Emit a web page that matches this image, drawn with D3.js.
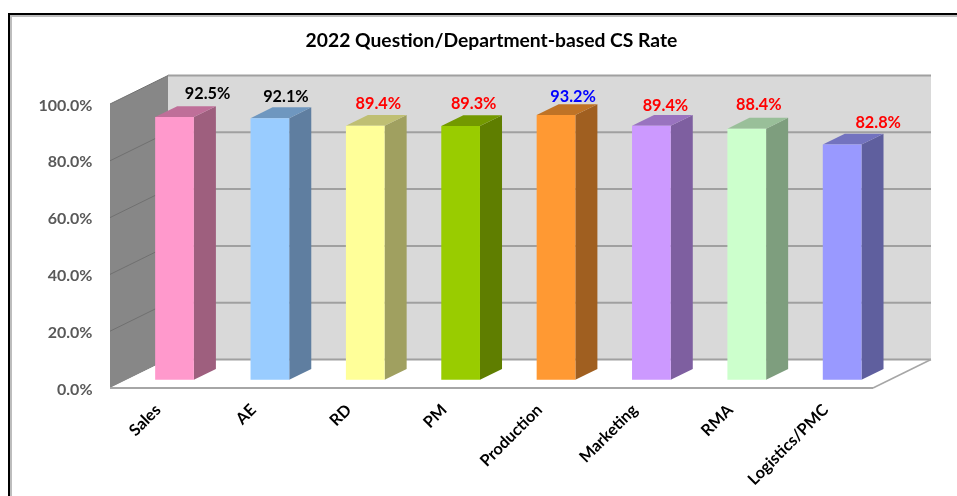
<!DOCTYPE html>
<html><head><meta charset="utf-8">
<script src="https://cdn.jsdelivr.net/npm/d3@7"></script>
<style>html,body{margin:0;padding:0;background:#fff;overflow:hidden}svg{display:block;filter:blur(0.35px)}</style>
</head><body><svg id="c" width="957" height="496"></svg>
<script>
const categories = ["Sales","AE","RD","PM","Production","Marketing","RMA","Logistics/PMC"];
const rates = [92.5,92.1,89.4,89.3,93.2,89.4,88.4,82.8];
const faceColors = ["#ff99cc","#99ccff","#ffff99","#99cc00","#ff9933","#cc99ff","#ccffcc","#9999ff"];
const topColors = ["#bf6f99","#6f97bf","#bfbf73","#739900","#bf7326","#9973bf","#99bf99","#7373bf"];
const sideColors = ["#9e5f7e","#5f7ea0","#a0a060","#5f7e00","#a05f20","#7e5fa0","#7e9e7e","#5f5f9e"];
const labelColors = ["#000","#000","#f00","#f00","#00f","#f00","#f00","#f00"];
const yTicks = [0,20,40,60,80,100];
const titleText = "2022 Question/Department-based CS Rate";

const svg = d3.select("#c");
const font = "Lato, Carlito, sans-serif";
const x = d3.scaleBand().domain(categories).range([110,873]);
const y = d3.scaleLinear().domain([0,100]).range([388,104]);
const depthX = d3.scaleLinear().domain([0,1]).range([0,58]);
const depthY = d3.scaleLinear().domain([0,1]).range([0,-28.5]);
const P = (px,val,z)=>[px+depthX(z), y(val)+depthY(z)];
const poly = pts => pts.map(p=>p.join(",")).join(" ");
const [x0,x1] = x.range();

// frame of the pasted picture: black line with a soft grey edge inside
svg.append("path").attr("d","M11,496V16H957").attr("fill","none").attr("stroke","#bdbdbd").attr("stroke-width",2);
svg.append("path").attr("d","M9,496V14H957").attr("fill","none").attr("stroke","#000").attr("stroke-width",2);

svg.append("text").attr("x",491.5).attr("y",47).attr("text-anchor","middle")
  .attr("font-family",font).attr("font-weight",700).attr("font-size",19.3).attr("fill","#000").text(titleText);

// back wall, side wall, floor
svg.append("polygon").attr("points",poly([P(x0,0,1),P(x1,0,1),P(x1,100,1),P(x0,100,1)])).attr("fill","#d9d9d9");
svg.append("polygon").attr("points",poly([P(x0,0,0),P(x0,0,1),P(x0,100,1),P(x0,100,0)])).attr("fill","#878787");
svg.append("polygon").attr("points",poly([P(x0,0,0),P(x1,0,0),P(x1,0,1),P(x0,0,1)])).attr("fill","#fff");

const grid = svg.append("g").attr("fill","none").attr("stroke","#a0a0a0").attr("stroke-width",2);
yTicks.forEach(t=>{
  grid.append("line").attr("x1",P(x0,t,1)[0]).attr("x2",P(x1,t,1)[0]).attr("y1",P(x0,t,1)[1]).attr("y2",P(x0,t,1)[1]);
  if (t>0) svg.append("line").attr("x1",P(x0,t,0)[0]).attr("y1",P(x0,t,0)[1]).attr("x2",P(x0,t,1)[0]).attr("y2",P(x0,t,1)[1])
    .attr("stroke","#707070").attr("stroke-width",1);
});
svg.append("line").attr("x1",x0).attr("x2",x1).attr("y1",y(0)).attr("y2",y(0)).attr("stroke","#a6a6a6").attr("stroke-width",2);
svg.append("line").attr("x1",x1).attr("y1",y(0)).attr("x2",P(x1,0,1)[0]).attr("y2",P(x1,0,1)[1]).attr("stroke","#a6a6a6").attr("stroke-width",1.5);

// y tick labels
svg.append("g").selectAll("text").data(yTicks).join("text")
  .attr("x",92.5).attr("y",d=>y(d)+6.5).attr("text-anchor","end")
  .attr("font-family",font).attr("font-weight",700).attr("font-size",16).attr("fill","#595959")
  .text(d=>d.toFixed(1)+"%");

// bars
const zFront = 0.29, zBack = 0.67, barW = 38.7;
// the data labels were dragged by hand in the original, so each has its own nudge
const labelNudge = [[10,0],[-7,2],[-10,1],[-10,1],[-6,5],[-9,3],[-11,-1],[13,1]];
const bars = svg.append("g").selectAll("g").data(categories).join("g");
bars.each(function(c,i){
  const g = d3.select(this), v = rates[i];
  const l = x(c)+x.bandwidth()/2-barW/2, r = l+barW;
  g.append("polygon").attr("points",poly([P(r,0,zFront),P(r,0,zBack),P(r,v,zBack),P(r,v,zFront)])).attr("fill",sideColors[i]);
  g.append("polygon").attr("points",poly([P(l,v,zFront),P(r,v,zFront),P(r,v,zBack),P(l,v,zBack)])).attr("fill",topColors[i]);
  g.append("polygon").attr("points",poly([P(l,0,zFront),P(r,0,zFront),P(r,v,zFront),P(l,v,zFront)])).attr("fill",faceColors[i]);
  const [lx,ly] = P(x(c)+x.bandwidth()/2, v, zBack);
  g.append("text").attr("x",lx+1+labelNudge[i][0]).attr("y",ly-7+labelNudge[i][1]).attr("text-anchor","middle")
    .attr("font-family",font).attr("font-weight",700).attr("font-size",16.3).attr("fill",labelColors[i]).text(v.toFixed(1)+"%");
});

// category labels
svg.append("g").selectAll("text").data(categories).join("text")
  .attr("text-anchor","end").attr("font-family",font).attr("font-weight",700).attr("font-size",16.2).attr("fill","#000")
  .attr("transform",c=>`translate(${x(c)+x.bandwidth()/2+4},${y(0)+23}) rotate(-45)`)
  .text(c=>c);
</script></body></html>
